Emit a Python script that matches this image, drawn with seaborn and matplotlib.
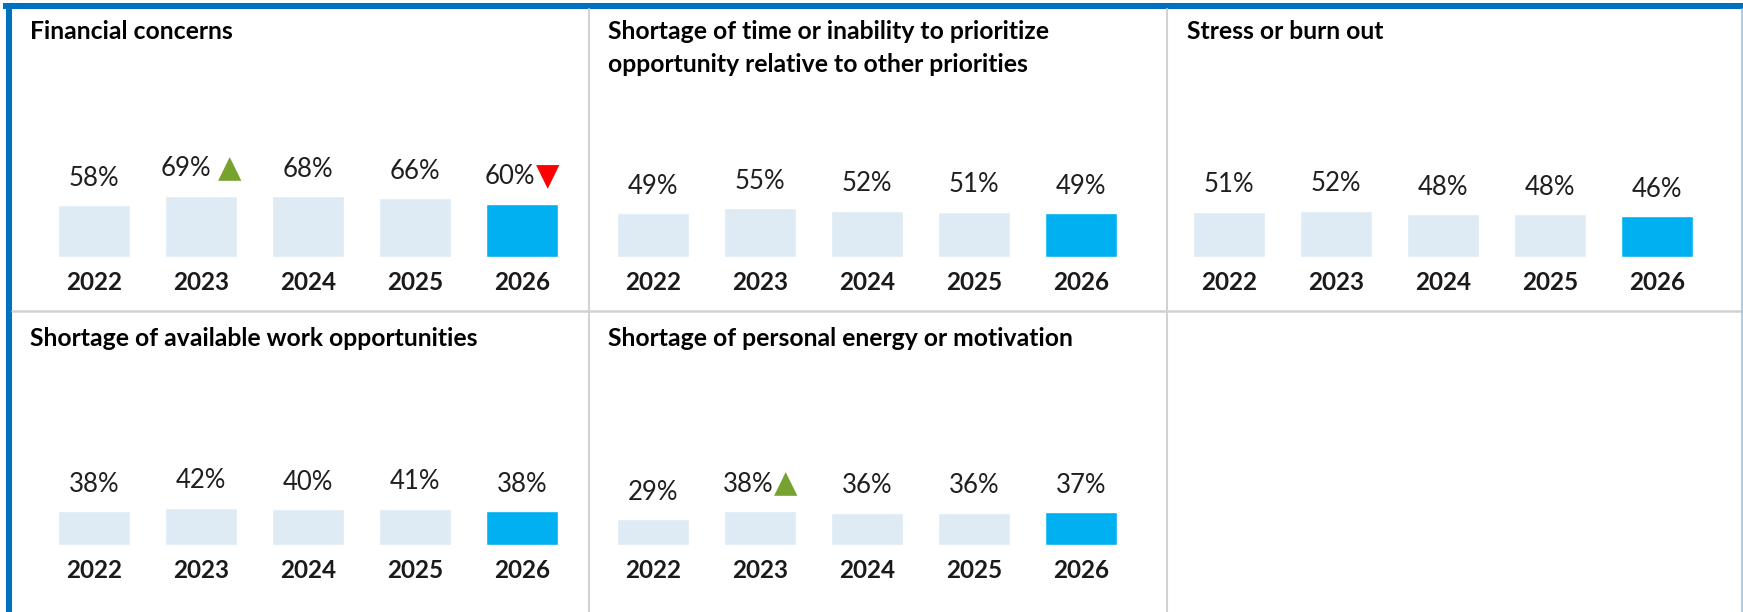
import matplotlib
matplotlib.use('Agg')
import matplotlib.pyplot as plt
import seaborn as sns
import pandas as pd
from matplotlib.offsetbox import TextArea, HPacker, AnnotationBbox
from matplotlib.patches import Rectangle
from matplotlib.lines import Line2D

# Daten
years = ['2022', '2023', '2024', '2025', '2026']
titles = [
    'Financial concerns',
    'Shortage of time or inability to prioritize\nopportunity relative to other priorities',
    'Stress or burn out',
    'Shortage of available work opportunities',
    'Shortage of personal energy or motivation',
]
financial = [58, 69, 68, 66, 60]
time_short = [49, 55, 52, 51, 49]
stress = [51, 52, 48, 48, 46]
work_opps = [38, 42, 40, 41, 38]
energy = [29, 38, 36, 36, 37]
series = [financial, time_short, stress, work_opps, energy]
# (panel, jahr-index, richtung)
changes = [(0, 1, 'up'), (0, 4, 'down'), (4, 1, 'up')]
change_gap = {(0, 1): 5, (0, 4): 0, (4, 1): 0}

light = '#DEEBF4'
cyan = '#00B0F0'
border_blue = '#0070C0'
divider = '#D2D2D2'
green = '#77A22F'
red = '#FF0000'

W, H = 1743, 612
sns.set_style('white')
plt.rcParams['font.family'] = ['Lato', 'DejaVu Sans']

fig = plt.figure(figsize=(W / 100, H / 100), dpi=100)
fig.patch.set_facecolor('white')

# Panel-Boxen in Pixeln (x0, y0, x1, y1), Spalte, Zeile
boxes = [(12, 9, 589, 311, 0, 0), (589, 9, 1167, 311, 1, 0), (1167, 9, 1742, 311, 2, 0),
         (12, 311, 589, 612, 0, 1), (589, 311, 1167, 612, 1, 1)]
first_x = [94, 653, 1229]
baseline = [257, 545]
title_dx = [18, 19, 20]
title_dy = [-11, -16]
step = 107
px_pct = 0.89

for k, (x0, y0, x1, y1, col, row) in enumerate(boxes):
    ax = fig.add_axes([x0 / W, 1 - y1 / H, (x1 - x0) / W, (y1 - y0) / H])
    vals = series[k]
    df = pd.DataFrame({'year': years, 'pct': vals,
                       'grp': ['prev'] * 4 + ['cur']})
    sns.barplot(data=df, x='year', y='pct', hue='grp',
                palette={'prev': light, 'cur': cyan}, width=72 / step,
                dodge=False, legend=False, saturation=1, ax=ax)
    c0 = first_x[col]
    b = baseline[row]
    ax.set_xlim((x0 - c0) / step, (x1 - c0) / step)
    ax.set_ylim(-(y1 - b) / px_pct, (b - y0) / px_pct)
    ax.axis('off')

    ax.annotate(titles[k], (0, 1), xycoords='axes fraction',
                xytext=(title_dx[col], title_dy[row]), textcoords='offset pixels',
                ha='left', va='top', fontsize=17.8, fontweight='bold',
                color='#000000', linespacing=1.5)

    marks = {(i): d for (p, i, d) in changes if p == k}
    for i, v in enumerate(vals):
        if i in marks:
            up = marks[i] == 'up'
            t1 = TextArea(f'{v}%', textprops=dict(fontsize=18.5, color='#1F1F1F'))
            t2 = TextArea('▲' if up else '▼',
                          textprops=dict(fontsize=22, color=green if up else red,
                                         family='DejaVu Sans'))
            box = HPacker(children=[t1, t2], pad=0, sep=change_gap[(k, i)], align='center')
            ab = AnnotationBbox(box, (i, v), xybox=(0, 27), boxcoords='offset pixels',
                                frameon=False, box_alignment=(0.5, 0.5), pad=0)
            ax.add_artist(ab)
        else:
            ax.annotate(f'{v}%', (i, v), xytext=(0, 27), textcoords='offset pixels',
                        ha='center', va='center', fontsize=18.5, color='#1F1F1F')
        ax.annotate(years[i], (i, 0), xytext=(0, -26), textcoords='offset pixels',
                    ha='center', va='center', fontsize=17.5, fontweight='bold',
                    color='#1A1A1A')

# Rahmen und Trennlinien
def fx(x):
    return x / W

def fy(y):
    return 1 - y / H

for x in (589, 1167):
    fig.add_artist(Line2D([fx(x), fx(x)], [fy(9), fy(612)], color=divider, lw=1.5))
fig.add_artist(Line2D([fx(12), fx(1742)], [fy(311), fy(311)], color=divider, lw=1.8))
fig.add_artist(Line2D([fx(1741.5), fx(1741.5)], [fy(9), fy(612)], color='#9DC3E6', lw=1.2))
fig.add_artist(Rectangle((fx(3), fy(9)), fx(1740), 6 / H, transform=fig.transFigure,
                         color=border_blue, lw=0))
fig.add_artist(Rectangle((fx(6), 0), 6 / W, fy(3), transform=fig.transFigure,
                         color=border_blue, lw=0))

fig.savefig('out.png', dpi=100, facecolor='white')
